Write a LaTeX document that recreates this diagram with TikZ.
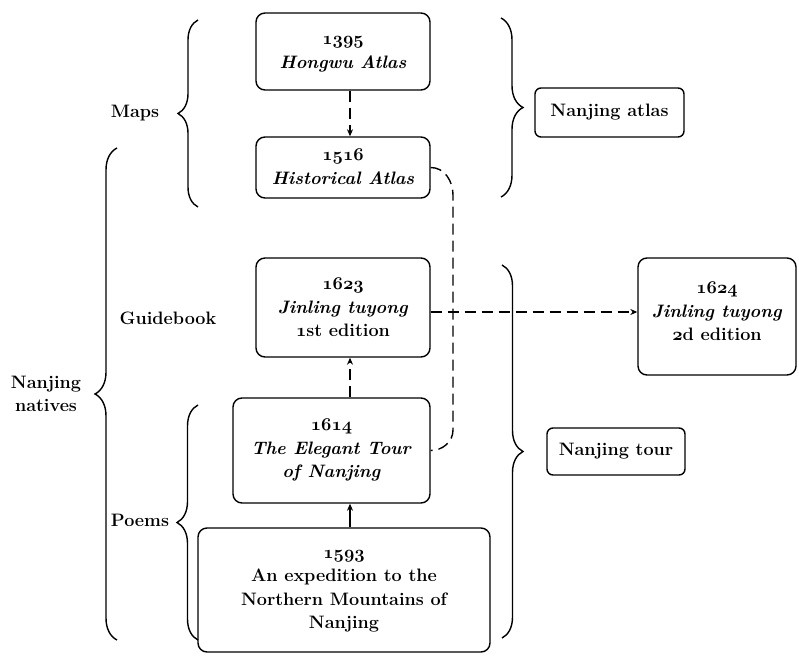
\documentclass[tikz,border=0pt]{standalone}
\usepackage{fix-cm}
\usetikzlibrary{arrows.meta,decorations.pathreplacing}
\newcommand\osn[1]{{\usefont{OML}{cmm}{b}{it}#1}}
\begin{document}
\begin{tikzpicture}[x=1pt,y=-1pt,
  every node/.style={font=\fontsize{18}{23.5}\selectfont\bfseries, inner sep=0pt},
  box/.style={draw, rounded corners=9pt, line width=1.4pt, align=center},
  lbl/.style={align=center},
  conn/.style={line width=1.4pt},
  dsh/.style={conn, dash pattern=on 11pt off 6pt},
  tip/.style={-{Stealth[length=7pt,width=6pt]}},
  brc/.style={decorate, decoration={brace, amplitude=#1}, line width=1.4pt}]
\useasboundingbox (0,0) rectangle (799,655);

% boxes
\node[box, minimum width=174pt, minimum height=77pt] (n1395) at (343,51.5)
  {\mbox{}\\[-9.5pt]\osn{1395}\\\textit{Hongwu Atlas}};
\node[box, minimum width=174pt, minimum height=61pt] (n1516) at (343,167.5)
  {\mbox{}\\[-13.5pt]\osn{1516}\\\textit{Historical Atlas}};
\node[box, minimum width=174pt, minimum height=99pt] (n1623) at (343,307.5)
  {\osn{1623}\\\textit{Jinling tuyong}\\\osn{1}st edition};
\node[box, minimum width=197pt, minimum height=105pt] (n1614) at (331.5,450.5)
  {\osn{1614}\\\textit{The Elegant Tour}\\\textit{of Nanjing}};
\node[box, minimum width=292pt, minimum height=124pt] (n1593) at (344,590)
  {\mbox{}\\[-13pt]\osn{1593}\\An expedition to the\\Northern Mountains of\\Nanjing};
\node[box, minimum width=158pt, minimum height=117pt] (n1624) at (717,316.5)
  {\osn{1624}\\\textit{Jinling tuyong}\\\osn{2}d edition\\[-13pt]\mbox{}};
\node[box, rounded corners=6pt, minimum width=149pt, minimum height=49pt] (atlas) at (609.5,112.5)
  {Nanjing atlas};
\node[box, rounded corners=6pt, minimum width=138pt, minimum height=47pt] (tour) at (616,451.5)
  {Nanjing tour};

% side labels
\node[lbl] (maps) at (135,113) {Maps};
\node[lbl] (natives) at (46,394) {Nanjing\\natives};
\node[lbl] (guide) at (168,318) {Guidebook};
\node[lbl] (poems) at (140,520) {Poems};

% braces
\draw[brc=20pt] (198,207) -- (198,20);
\draw[brc=22pt] (117,640) -- (117,148);
\draw[brc=21pt] (198,640) -- (198,405);
\draw[brc=22pt] (501,18) -- (501,197);
\draw[brc=21pt] (502,265) -- (502,638);

% connectors
\coordinate (ax) at (350,0);
\coordinate (ay) at (0,312);
\coordinate (c1) at (453,195);
\coordinate (c2) at (453,430);
\draw[dsh, tip] (n1395.south -| ax) -- (n1516.north -| ax);
\draw[dsh, tip] (n1614.north -| ax) -- (n1623.south -| ax);
\draw[conn, tip] (n1593.north -| ax) -- (n1614.south -| ax);
\draw[dsh, tip] (n1623.east |- ay) -- (n1624.west |- ay);
\draw[dsh] (n1516.east) to[out=0,in=90] (c1) -- (c2) to[out=-90,in=0] (n1614.east);
\end{tikzpicture}
\end{document}
